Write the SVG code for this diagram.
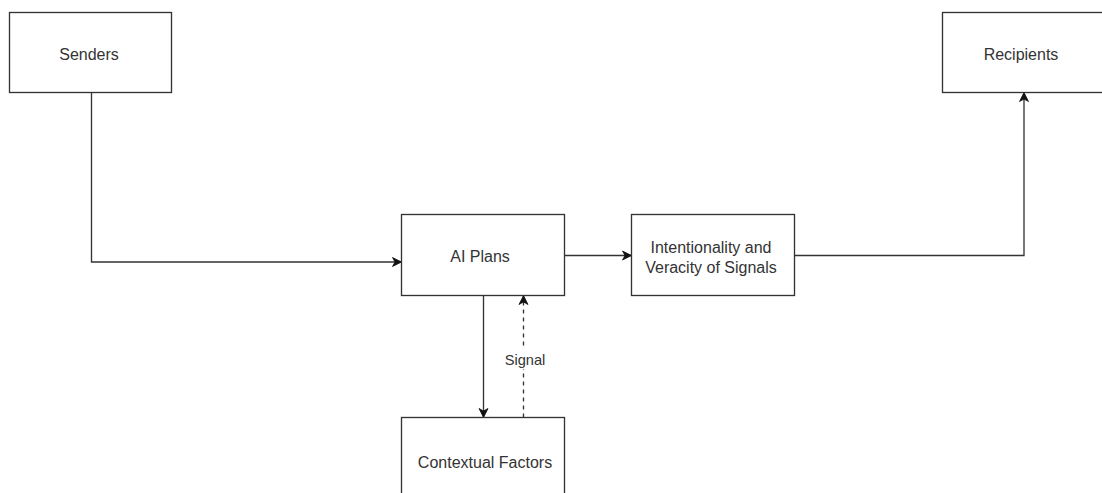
<svg xmlns="http://www.w3.org/2000/svg" width="1102" height="493" viewBox="0 0 1102 493">
  <style>
    .box { fill: #ffffff; stroke: #333333; stroke-width: 1.33; }
    .label { font-family: "Liberation Sans", Arial, sans-serif; font-size: 16px; fill: #333333; text-anchor: middle; }
    .edge-label { font-family: "Liberation Sans", Arial, sans-serif; font-size: 14.6px; fill: #333333; text-anchor: middle; }
    .edge { fill: none; stroke: #333333; stroke-width: 1.33; }
    .dashed { stroke-dasharray: 4 4; }
  </style>
  <defs>
    <marker id="arrow" markerUnits="userSpaceOnUse" markerWidth="12" markerHeight="12" viewBox="-10 -6 12 12" refX="0" refY="0" orient="auto">
      <path d="M0,0 L-9,-4.5 L-6.5,0 L-9,4.5 Z" fill="#111111" stroke="#111111" stroke-width="0.8"/>
    </marker>
  </defs>
  <rect width="1102" height="493" fill="#ffffff"/>

  <g id="connectors">
    <path class="edge" d="M91.5,92.5 V262 H401.5" marker-end="url(#arrow)"/>
    <path class="edge" d="M564.5,255.5 H631.5" marker-end="url(#arrow)"/>
    <path class="edge" d="M794.5,255.5 H1024 V92.5" marker-end="url(#arrow)"/>
    <path class="edge" d="M483.5,295.5 V417.5" marker-end="url(#arrow)"/>
    <path class="edge dashed" d="M523.5,417.5 V295.5" marker-end="url(#arrow)"/>
    <g id="signal-label">
      <rect x="503" y="349" width="44" height="20" fill="#ffffff"/>
      <text class="edge-label" x="525" y="364.5">Signal</text>
    </g>
  </g>

  <g id="senders">
    <rect class="box" x="9.5" y="12.5" width="162" height="80"/>
    <text class="label" x="89" y="59.5">Senders</text>
  </g>

  <g id="recipients">
    <rect class="box" x="942.5" y="12.5" width="162" height="80"/>
    <text class="label" x="1021" y="59.5">Recipients</text>
  </g>

  <g id="ai-plans">
    <rect class="box" x="401.5" y="214.5" width="163" height="81"/>
    <text class="label" x="480" y="261.5">AI Plans</text>
  </g>

  <g id="intentionality">
    <rect class="box" x="631.5" y="214.5" width="163" height="81"/>
    <text class="label" x="711" y="253">Intentionality and</text>
    <text class="label" x="711" y="273">Veracity of Signals</text>
  </g>

  <g id="contextual-factors">
    <rect class="box" x="401.5" y="417.5" width="163" height="81"/>
    <text class="label" x="485" y="468">Contextual Factors</text>
  </g>
</svg>
